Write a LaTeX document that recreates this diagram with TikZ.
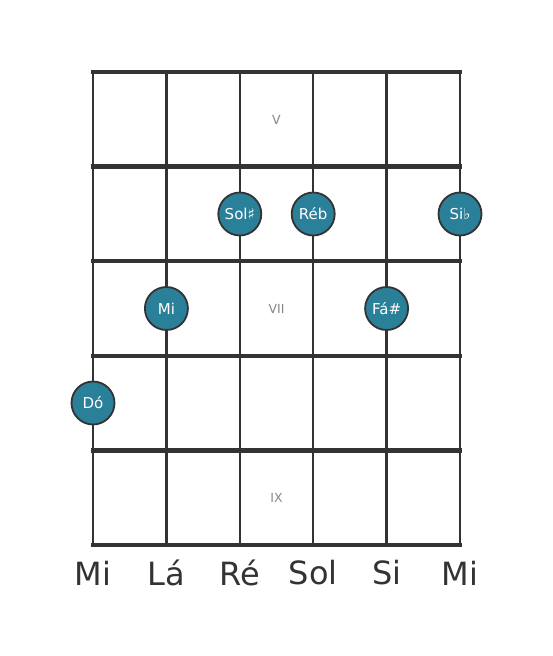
\documentclass[tikz,border=0pt]{standalone}
\usepackage{fontspec}
\setmainfont{DejaVu Sans}
\definecolor{ink}{HTML}{333333}
\definecolor{teal}{HTML}{2A7F99}
\definecolor{lab}{HTML}{888888}
\begin{document}
\begin{tikzpicture}[x=1pt,y=-1pt,
  fretline/.style={draw=ink,line width=4.5pt,line cap=rect},
  stringline/.style={draw=ink,line width=2.5pt},
  note/.style={circle,fill=teal,draw=ink,line width=1.8pt,minimum size=43pt,inner sep=0pt,text=white,font=\fontsize{15}{15}\selectfont},
  fretnum/.style={text=lab,font=\fontsize{12.5}{12.5}\selectfont},
  strname/.style={text=ink,font=\fontsize{32}{32}\selectfont}]
\useasboundingbox[fill=white] (0,0) rectangle (553,656);
\foreach \i/\x in {0/93,1/166.4,2/239.8,3/313.2,4/386.6,5/460}{
  \draw[stringline] (\x,72) -- (\x,545);
}
\foreach \y in {72,166.6,261.2,355.8,450.4,545}{
  \draw[fretline] (93,\y) -- (460,\y);
}
\node[fretnum] (f5) at (276.5,120) {V};
\node[fretnum] (f7) at (276.5,309) {VII};
\node[fretnum] (f9) at (276.5,498) {IX};
\node[note] (sol) at (239.8,214) {Sol♯};
\node[note] (re) at (313.2,214) {Réb};
\node[note] (si) at (460,214) {Si♭};
\node[note] (mi) at (166.4,308.5) {Mi};
\node[note] (fa) at (386.6,308.5) {Fá\#};
\node[note] (do) at (93,403) {Dó};
\node[strname] (s1) at (93,573) {Mi};
\node[strname] (s2) at (166.4,573) {Lá};
\node[strname] (s3) at (239.8,573) {Ré};
\node[strname] (s4) at (313.2,573) {Sol};
\node[strname] (s5) at (386.6,573) {Si};
\node[strname] (s6) at (460,573) {Mi};
\end{tikzpicture}
\end{document}
